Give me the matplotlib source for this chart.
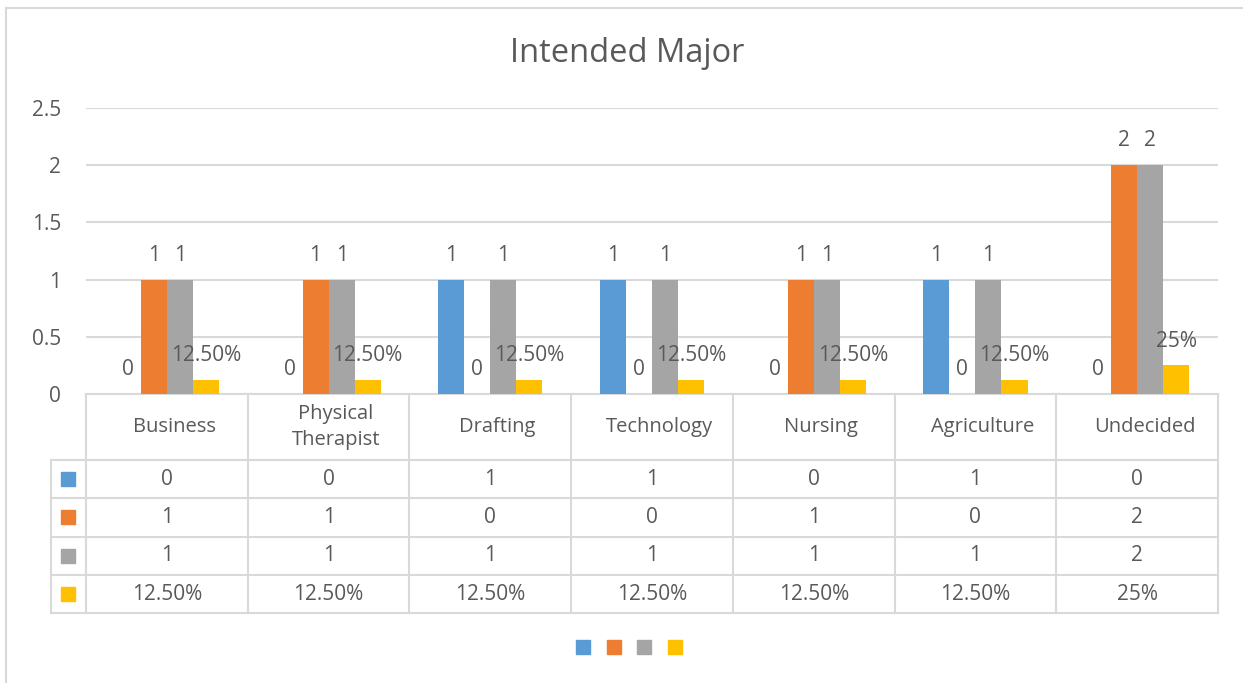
import numpy as np
import matplotlib
matplotlib.use("Agg")
import matplotlib.pyplot as plt
from matplotlib.patches import Rectangle
from matplotlib.lines import Line2D
import matplotlib.transforms as mtransforms

# ======================================================
# DATA
# ======================================================

categories = ["Business", "Physical\nTherapist", "Drafting", "Technology",
              "Nursing", "Agriculture", "Undecided"]
series_a = [0, 0, 1, 1, 0, 1, 0]
series_b = [1, 1, 0, 0, 1, 0, 2]
series_c = [1, 1, 1, 1, 1, 1, 2]
series_d = [0.125, 0.125, 0.125, 0.125, 0.125, 0.125, 0.25]
series_d_labels = ["12.50%", "12.50%", "12.50%", "12.50%", "12.50%", "12.50%", "25%"]

colors = ["#5b9bd5", "#ed7d31", "#a5a5a5", "#ffc000"]
txt = "#595959"
grid_c = "#d9d9d9"

plt.rcParams["font.family"] = ["Open Sans", "DejaVu Sans"]

W, H = 1243, 683
fig = plt.figure(figsize=(W / 100, H / 100), dpi=100)

# outer frame (left + top)
fig.add_artist(Line2D([6 / W, 6 / W], [0, 1 - 8 / H], color=grid_c, lw=1.5))
fig.add_artist(Line2D([6 / W, 1], [1 - 8 / H, 1 - 8 / H], color=grid_c, lw=1.5))

ax = fig.add_axes([86 / W, (H - 394) / H, 1132 / W, 286 / H])

x = np.arange(len(categories))
bw = 0.161
all_series = [series_a, series_b, series_c, series_d]
labels_all = [[str(v) for v in series_a], [str(v) for v in series_b],
              [str(v) for v in series_c], series_d_labels]

for i, (vals, c, labs) in enumerate(zip(all_series, colors, labels_all)):
    xpos = x + (i - 1.5) * bw
    bars = ax.bar(xpos, vals, width=bw, color=c, zorder=3)
    ax.bar_label(bars, labels=labs, padding=10, fontsize=15, color=txt)

ax.set_xlim(-0.5, len(categories) - 0.5)
ax.set_ylim(0, 2.5)
ax.set_yticks(np.arange(0, 2.51, 0.5))
ax.set_yticklabels(["0", "0.5", "1", "1.5", "2", "2.5"])
ax.tick_params(axis="y", length=0, pad=18, labelsize=15, labelcolor=txt)
ax.tick_params(axis="x", length=0, labelbottom=False)
ax.grid(axis="y", color=grid_c, lw=1.5, zorder=0)
for s in ax.spines.values():
    s.set_visible(False)

fig.text(627 / W, 1 - 53 / H, "Intended Major", ha="center", va="center",
         fontsize=23.5, color=txt)

# ======================================================
# DATA TABLE
# ======================================================

trans = mtransforms.blended_transform_factory(ax.transData, ax.transAxes)
head_h = 66 / 286
row_h = 38.3 / 286
left_w = 35 / 161.7
n = len(categories)
y_head = -head_h
y_bottom = y_head - 4 * row_h
x0 = -0.5
x1 = n - 0.5

kw = dict(transform=trans, color=grid_c, lw=1.5, clip_on=False)
# horizontal lines
ax.plot([x0, x1], [0, 0], **kw)
ax.plot([x0 - left_w, x1], [y_head, y_head], **kw)
for r in range(1, 5):
    yy = y_head - r * row_h
    ax.plot([x0 - left_w, x1], [yy, yy], **kw)
# vertical lines
for k in range(n + 1):
    ax.plot([x0 + k, x0 + k], [0, y_bottom], **kw)
ax.plot([x0 - left_w, x0 - left_w], [y_head, y_bottom], **kw)

# header labels sit a little right of the column centre (as in Excel)
for j, cat in enumerate(categories):
    ax.text(j + 0.045, y_head / 2, cat, transform=trans, ha="center", va="center",
            fontsize=14.5, color=txt, linespacing=1.45, clip_on=False)

for r, (labs, c) in enumerate(zip(labels_all, colors)):
    yc = y_head - (r + 0.5) * row_h
    ax.plot([x0 - left_w / 2], [yc], marker="s", ms=10, color=c,
            transform=trans, clip_on=False, lw=0)
    for j, lab in enumerate(labs):
        ax.text(j, yc, lab, transform=trans, ha="center", va="center",
                fontsize=15, color=txt, clip_on=False)

# ======================================================
# LEGEND (markers only)
# ======================================================

handles = [Rectangle((0, 0), 1, 1, color=c) for c in colors]
fig.legend(handles, [""] * 4, ncol=4, frameon=False, loc="center",
           bbox_to_anchor=(629 / W, 1 - 649 / H), fontsize=14,
           handlelength=0.72, handleheight=0.72, handletextpad=0,
           columnspacing=0.86)

fig.savefig("out.png", dpi=100)
